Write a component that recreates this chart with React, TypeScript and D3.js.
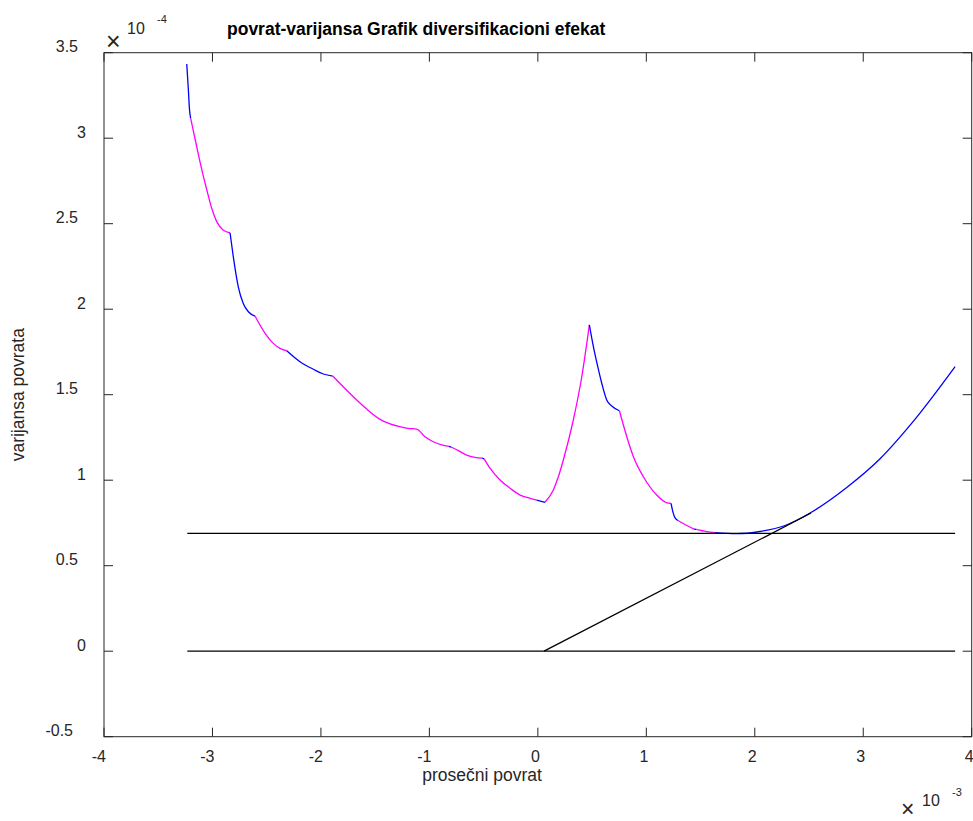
import React from "react";
import * as d3 from "d3";

// Mean return in units of 1e-3, variance in units of 1e-4 (axis multipliers shown on the chart)
const xTicks = [-4, -3, -2, -1, 0, 1, 2, 3, 4];
const yTicks = [-0.5, 0, 0.5, 1, 1.5, 2, 2.5, 3, 3.5];

type Pt = [number, number];

// Frontier pieces, alternating colours as plotted
const segA: Pt[] = [[-3.237, 3.434], [-3.222, 3.282], [-3.212, 3.17], [-3.201, 3.116]];
const segB: Pt[] = [[-3.201, 3.116], [-3.145, 2.95], [-3.099, 2.818], [-3.053, 2.7], [-3.007, 2.59], [-2.961, 2.512], [-2.9, 2.462], [-2.838, 2.447]];
const segC: Pt[] = [[-2.838, 2.447], [-2.808, 2.307], [-2.762, 2.131], [-2.716, 2.034], [-2.669, 1.985], [-2.608, 1.96]];
const segD: Pt[] = [[-2.608, 1.96], [-2.515, 1.859], [-2.439, 1.8], [-2.377, 1.771], [-2.315, 1.757]];
const segE: Pt[] = [[-2.315, 1.757], [-2.193, 1.693], [-2.07, 1.649], [-1.978, 1.621], [-1.891, 1.609]];
const segF: Pt[] = [[-1.891, 1.609], [-1.796, 1.548], [-1.701, 1.488], [-1.578, 1.416], [-1.455, 1.356], [-1.363, 1.329], [-1.271, 1.313], [-1.197, 1.303], [-1.117, 1.299], [-1.04, 1.254], [-0.964, 1.225], [-0.886, 1.206], [-0.82, 1.198]];
const segG: Pt[] = [[-0.82, 1.198], [-0.8, 1.194]];
const segH: Pt[] = [[-0.8, 1.194], [-0.733, 1.173], [-0.656, 1.147], [-0.579, 1.134], [-0.513, 1.129]];
const segI: Pt[] = [[-0.513, 1.129], [-0.495, 1.125]];
const segJ: Pt[] = [[-0.495, 1.125], [-0.441, 1.07], [-0.349, 1.001], [-0.256, 0.953], [-0.164, 0.913], [-0.072, 0.894], [-0.01, 0.884]];
const segK: Pt[] = [[-0.01, 0.884], [0.066, 0.871]];
const segL: Pt[] = [[0.066, 0.871], [0.143, 0.943], [0.189, 1.02], [0.235, 1.118], [0.327, 1.352], [0.405, 1.605], [0.475, 1.908]];
const segM: Pt[] = [[0.475, 1.908], [0.512, 1.781], [0.543, 1.69], [0.589, 1.567], [0.635, 1.469], [0.681, 1.434], [0.752, 1.406]];
const segN: Pt[] = [[0.752, 1.406], [0.82, 1.254], [0.881, 1.137], [0.973, 1.02], [1.096, 0.913], [1.189, 0.868], [1.228, 0.865]];
const segO: Pt[] = [[1.228, 0.865], [1.245, 0.815], [1.265, 0.78], [1.296, 0.763]];
const segP: Pt[] = [[1.296, 0.763], [1.373, 0.735], [1.44, 0.714]];
const segQ: Pt[] = [[1.44, 0.714], [1.46, 0.712]];
const segR: Pt[] = [[1.46, 0.712], [1.557, 0.699], [1.634, 0.693]];
const segS: Pt[] = [[1.634, 0.693], [1.834, 0.687], [2.049, 0.7], [2.279, 0.735], [2.51, 0.808], [2.848, 0.957], [3.155, 1.125], [3.463, 1.345], [3.847, 1.664]];

const BLUE = "#0000ff";
const MAGENTA = "#ff00ff";
const frontier: { pts: Pt[]; color: string }[] = [
  { pts: segA, color: BLUE }, { pts: segB, color: MAGENTA }, { pts: segC, color: BLUE },
  { pts: segD, color: MAGENTA }, { pts: segE, color: BLUE }, { pts: segF, color: MAGENTA },
  { pts: segG, color: BLUE }, { pts: segH, color: MAGENTA }, { pts: segI, color: BLUE },
  { pts: segJ, color: MAGENTA }, { pts: segK, color: BLUE }, { pts: segL, color: MAGENTA },
  { pts: segM, color: BLUE }, { pts: segN, color: MAGENTA }, { pts: segO, color: BLUE },
  { pts: segP, color: MAGENTA }, { pts: segQ, color: BLUE }, { pts: segR, color: MAGENTA },
  { pts: segS, color: BLUE },
];

// Reference lines: zero level, minimum-variance level, capital market line
const zeroLine: Pt[] = [[-3.232, 0], [3.847, 0]];
const minVarLine: Pt[] = [[-3.232, 0.689], [3.847, 0.689]];
const cmlLine: Pt[] = [[0.057, 0], [2.519, 0.808]];

const W = 973;
const H = 821;
const left = 104, right = 971.7, top = 52.7, bottom = 736.7;

const x = d3.scaleLinear().domain([-4, 4]).range([left, right]);
const y = d3.scaleLinear().domain([-0.5, 3.5]).range([bottom, top]);

const curve = d3.line<Pt>().x((d) => x(d[0])).y((d) => y(d[1])).curve(d3.curveMonotoneX);
const straight = d3.line<Pt>().x((d) => x(d[0])).y((d) => y(d[1]));

const AX = "#262626";
const FONT = "Liberation Sans, Arial, Helvetica, sans-serif";
const FS = 16;
const LFS = 17.5;

function yLabelEnd(t: number): number {
  const s = String(t);
  let end = 86;
  if (s.includes(".")) end -= 8;
  if (s.startsWith("-")) end -= 5;
  return end;
}

export default function App() {
  return (
    <svg width={W} height={H} style={{ position: "absolute", left: 0, top: 0, background: "#fff" }} fontFamily={FONT}>
      <rect x={0} y={0} width={W} height={H} fill="#fff" />
      {/* data */}
      {frontier.map((s, i) => (
        <path key={i} d={curve(s.pts) || ""} fill="none" stroke={s.color} strokeWidth={1.3} />
      ))}
      <path d={straight(zeroLine) || ""} stroke="#000" strokeWidth={1.3} fill="none" />
      <path d={straight(minVarLine) || ""} stroke="#000" strokeWidth={1.3} fill="none" />
      <path d={straight(cmlLine) || ""} stroke="#000" strokeWidth={1.3} fill="none" />

      {/* axes box */}
      <rect x={left} y={top} width={right - left} height={bottom - top} fill="none" stroke={AX} strokeWidth={1} />
      {xTicks.map((t) => (
        <g key={"x" + t}>
          <line x1={x(t)} x2={x(t)} y1={bottom} y2={bottom - 9} stroke={AX} />
          <line x1={x(t)} x2={x(t)} y1={top} y2={top + 9} stroke={AX} />
          <text x={x(t) + 2} y={762} textAnchor="end" fontSize={FS} fill={AX}>{t}</text>
        </g>
      ))}
      {yTicks.map((t) => (
        <g key={"y" + t}>
          <line x1={left} x2={left + 9} y1={y(t)} y2={y(t)} stroke={AX} />
          <line x1={right} x2={right - 9} y1={y(t)} y2={y(t)} stroke={AX} />
          <text x={yLabelEnd(t)} y={y(t) - 0.5} textAnchor="end" fontSize={FS} fill={AX}>{t}</text>
        </g>
      ))}

      {/* exponent multipliers */}
      <text x={106} y={50} fontSize={25} fill={AX}>×</text>
      <text x={127} y={34} fontSize={FS} fill={AX}>10</text>
      <text x={157} y={23} fontSize={11} fill={AX}>-4</text>
      <text x={901} y={817} fontSize={23} fill={AX}>×</text>
      <text x={922} y={806} fontSize={FS} fill={AX}>10</text>
      <text x={952} y={796} fontSize={11} fill={AX}>-3</text>

      {/* titles */}
      <text x={227} y={35} fontSize={LFS} fontWeight="bold" fill="#000">povrat-varijansa Grafik diversifikacioni efekat</text>
      <text x={482} y={781} textAnchor="middle" fontSize={LFS} fill={AX}>prosečni povrat</text>
      <text transform={`translate(24, ${(top + bottom) / 2}) rotate(-90)`} textAnchor="middle" fontSize={LFS} fill={AX}>varijansa povrata</text>
    </svg>
  );
}
